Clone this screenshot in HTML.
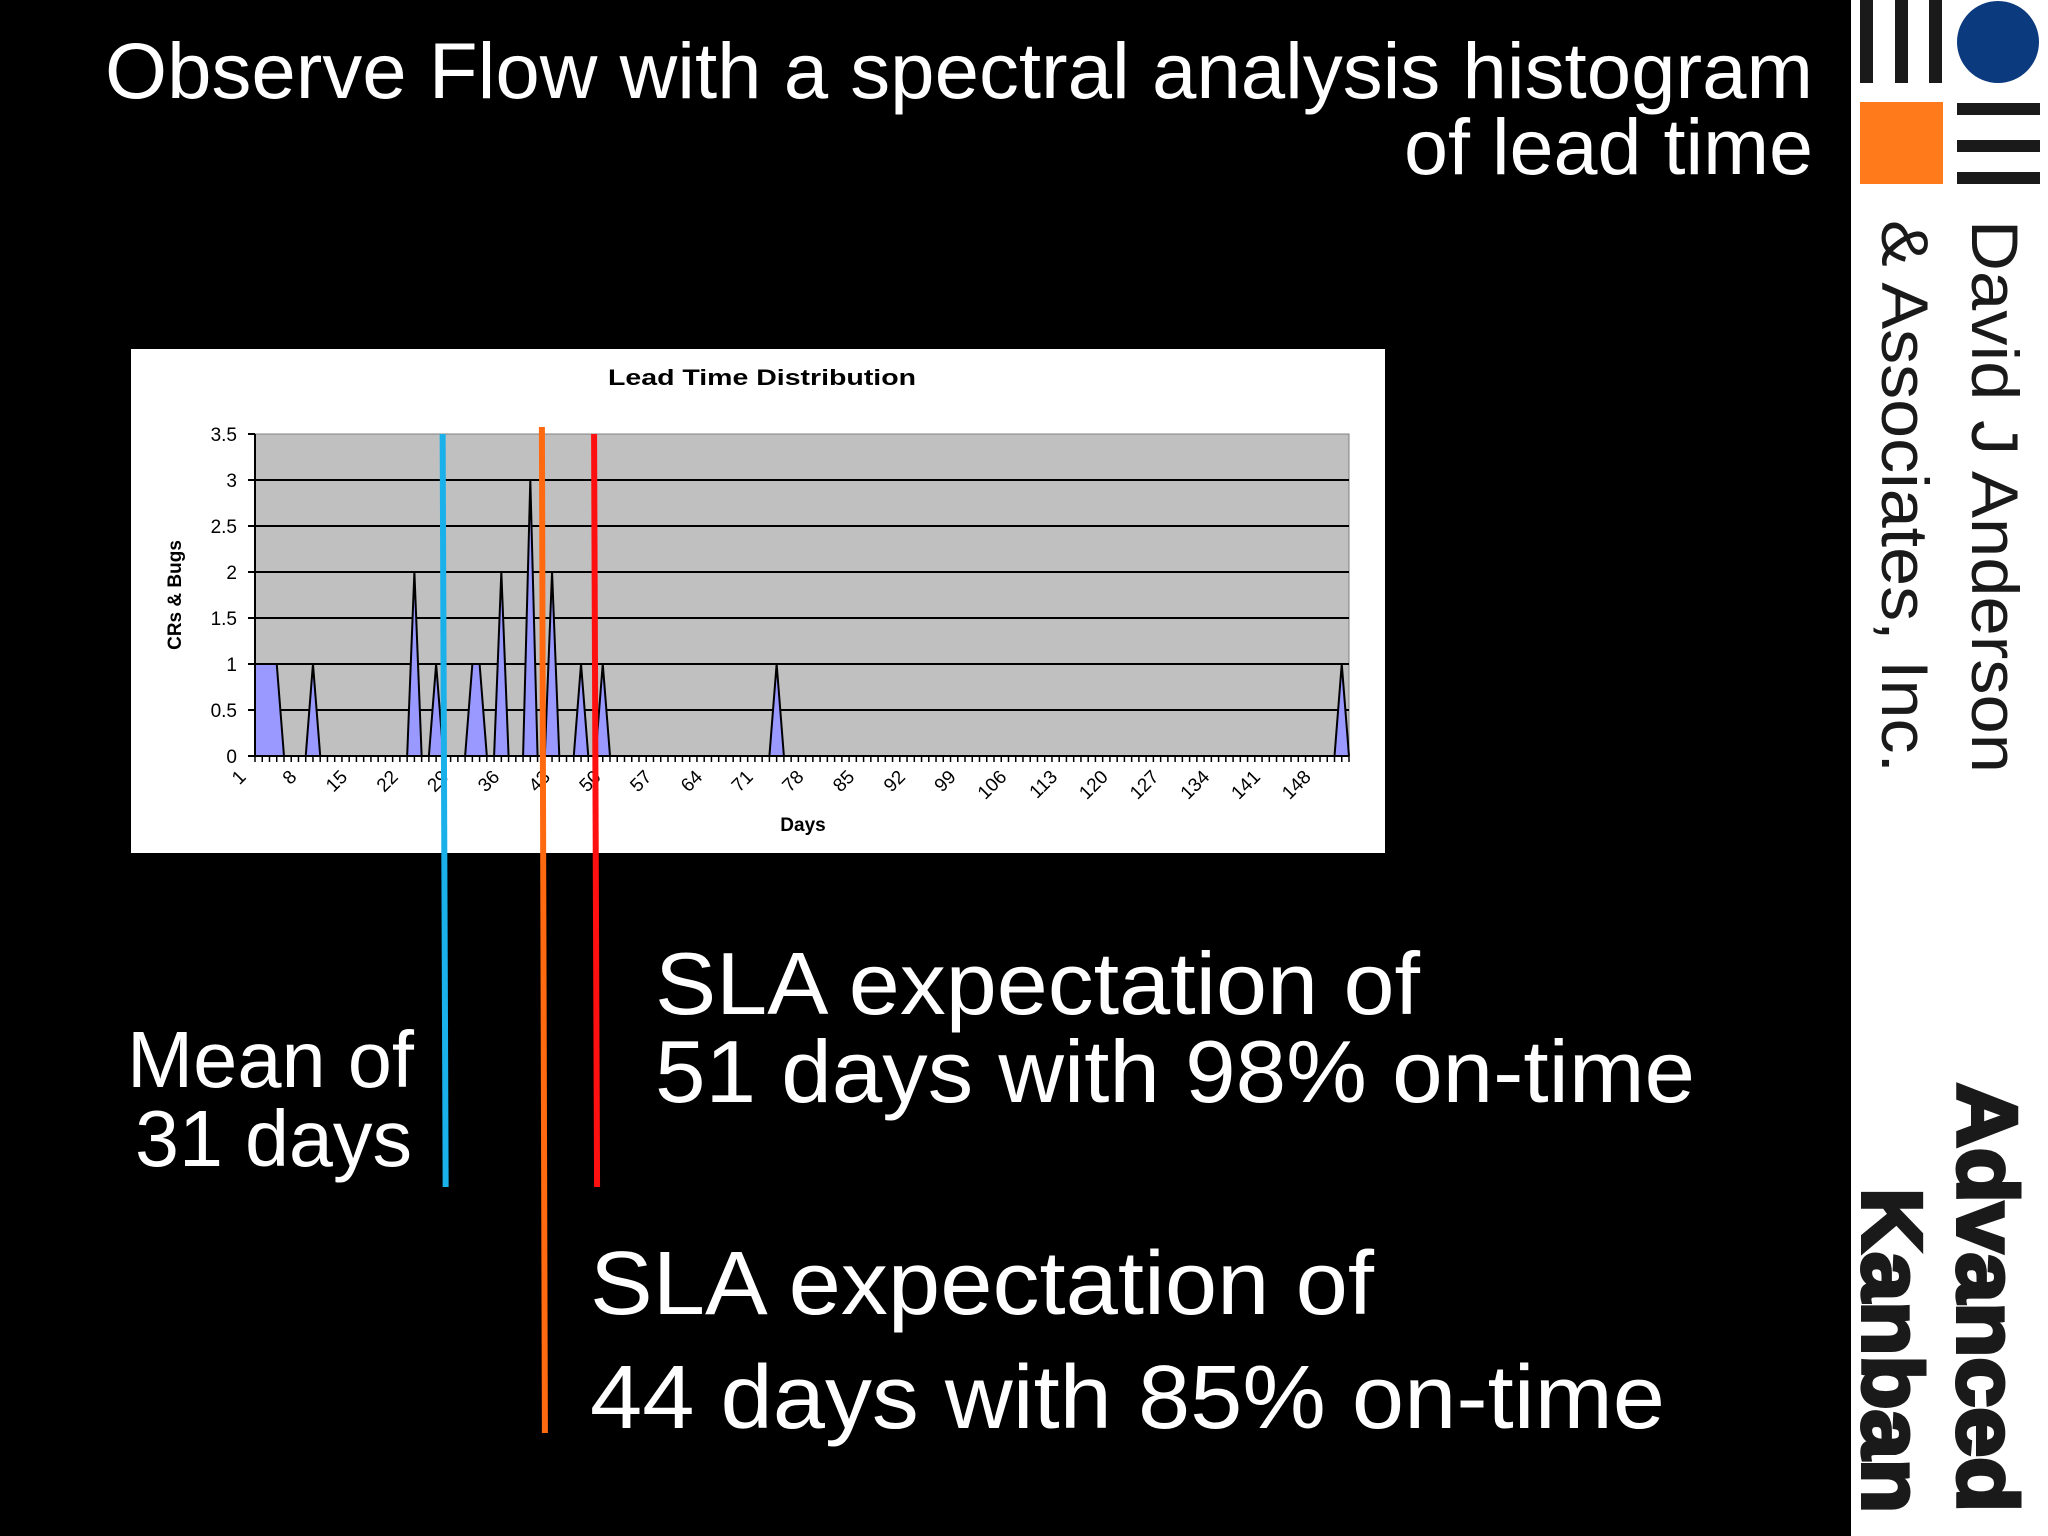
<!DOCTYPE html>
<html><head><meta charset="utf-8"><style>
html,body{margin:0;padding:0;background:#000;}
svg{display:block;}
text{font-family:"Liberation Sans",sans-serif;}
</style></head><body>
<svg id="page" width="2048" height="1536" viewBox="0 0 2048 1536" xmlns="http://www.w3.org/2000/svg">
<rect x="0" y="0" width="2048" height="1536" fill="#000"/>
<text x="105" y="98" font-size="79" fill="#fff" textLength="1708" lengthAdjust="spacingAndGlyphs">Observe Flow with a spectral analysis histogram</text>
<text x="1404" y="174" font-size="79" fill="#fff" textLength="409" lengthAdjust="spacingAndGlyphs">of lead time</text>

<g>
<rect x="1851" y="0" width="197" height="1536" fill="#fff"/>
<g>
<rect x="1860" y="0" width="13" height="83" fill="#1a1a1a"/>
<rect x="1895" y="0" width="13" height="83" fill="#1a1a1a"/>
<rect x="1929" y="0" width="13" height="83" fill="#1a1a1a"/>
<circle cx="1998" cy="42" r="41" fill="#0b3a7e"/>
<rect x="1860" y="102" width="83" height="82" fill="#ff7a1a"/>
<rect x="1957" y="103" width="83" height="12" fill="#1a1a1a"/>
<rect x="1957" y="140" width="83" height="12" fill="#1a1a1a"/>
<rect x="1957" y="172" width="83" height="12" fill="#1a1a1a"/>
</g>
<text transform="translate(1972,220) rotate(90)" font-size="66" fill="#1a1a1a" textLength="553" lengthAdjust="spacingAndGlyphs">David J Anderson</text>
<text transform="translate(1882,220) rotate(90)" font-size="66" fill="#1a1a1a" textLength="553" lengthAdjust="spacingAndGlyphs">&amp; Associates, Inc.</text>
<text transform="translate(1958,1083) rotate(90)" font-size="84" font-weight="bold" fill="#1a1a1a" textLength="429" lengthAdjust="spacingAndGlyphs" stroke="#1a1a1a" stroke-width="4">Advanced</text>
<text transform="translate(1863,1188) rotate(90)" font-size="84" font-weight="bold" fill="#1a1a1a" textLength="325" lengthAdjust="spacingAndGlyphs" stroke="#1a1a1a" stroke-width="4">Kanban</text>
</g>

<g id="chart">
<rect x="131" y="349" width="1254" height="504" fill="#fff"/>
<text x="608" y="385" font-size="22" font-weight="bold" fill="#000" textLength="308" lengthAdjust="spacingAndGlyphs">Lead Time Distribution</text>
<rect x="255" y="434" width="1094" height="322" fill="#c0c0c0" stroke="#808080" stroke-width="1"/>
<g id="grid"></g>
<g id="series"></g>
<g id="axes"></g>
<text transform="translate(181,595) rotate(-90)" font-size="19" font-weight="bold" fill="#000" text-anchor="middle">CRs &amp; Bugs</text>
<text x="803" y="831" font-size="19" font-weight="bold" fill="#000" text-anchor="middle">Days</text>
</g>
<g id="markers"></g>

<text x="127" y="1087" font-size="80" fill="#fff" textLength="287" lengthAdjust="spacingAndGlyphs">Mean of</text>
<text x="135" y="1166" font-size="80" fill="#fff" textLength="277" lengthAdjust="spacingAndGlyphs">31 days</text>
<text x="655" y="1014" font-size="88" fill="#fff" textLength="765" lengthAdjust="spacingAndGlyphs">SLA expectation of</text>
<text x="655" y="1102" font-size="88" fill="#fff" textLength="1040" lengthAdjust="spacingAndGlyphs">51 days with 98% on-time</text>
<text x="590" y="1314" font-size="90" fill="#fff" textLength="784" lengthAdjust="spacingAndGlyphs">SLA expectation of</text>
<text x="590" y="1428" font-size="90" fill="#fff" textLength="1075" lengthAdjust="spacingAndGlyphs">44 days with 85% on-time</text>
</svg>
<script>
const dayCount = 152;
const peakDays = [1, 2, 3, 4, 9, 23, 26, 31, 32, 35, 39, 42, 46, 49, 73, 151];
const peakValues = [1, 1, 1, 1, 1, 2, 1, 1, 1, 2, 3, 2, 1, 1, 1, 1];
const yTicks = [0, 0.5, 1, 1.5, 2, 2.5, 3, 3.5];
const yTickLabels = ["0", "0.5", "1", "1.5", "2", "2.5", "3", "3.5"];
const markerDays = [26.9, 40.6, 47.8];
const markerNames = ["mean-31-days-line", "sla-44-days-line", "sla-51-days-line"];
const markerColors = ["#1ab0ea", "#ff6a10", "#ff1010"];

const NS = "http://www.w3.org/2000/svg";
const PL = 255, PR = 1349, PT = 434, PB = 756, YMAX = 3.5;
function xs(day){ return PL + (day - 1) * (PR - PL) / (dayCount - 1); }
function ys(v){ return PB - v / YMAX * (PB - PT); }
function mk(tag, attrs, parent){ const e = document.createElementNS(NS, tag); for (const k in attrs) e.setAttribute(k, attrs[k]); parent.appendChild(e); return e; }

const values = new Array(dayCount).fill(0);
peakDays.forEach((d, i) => { values[d - 1] = peakValues[i]; });

const grid = document.getElementById('grid');
yTicks.forEach((t, i) => {
  if (t > 0 && t < YMAX) {
    const l = mk('line', {x1: PL, x2: PR, y1: ys(t), y2: ys(t), stroke: '#000', 'stroke-width': 2}, grid);
    
    
  }
});

const series = document.getElementById('series');
let d = 'M' + xs(1) + ',' + ys(0);
values.forEach((v, i) => { d += ' L' + xs(i + 1).toFixed(2) + ',' + ys(v).toFixed(2); });
d += ' L' + xs(dayCount) + ',' + ys(0) + ' Z';
const area = mk('path', {d: d, fill: '#9999ff', stroke: 'none'}, series);


let ld = '';
values.forEach((v, i) => { ld += (i ? ' L' : 'M') + xs(i + 1).toFixed(2) + ',' + ys(v).toFixed(2); });
const outline = mk('path', {d: ld, fill: 'none', stroke: '#000', 'stroke-width': 2}, series);



const axes = document.getElementById('axes');
const ya = mk('line', {x1: PL, x2: PL, y1: PT, y2: PB, stroke: '#000', 'stroke-width': 2}, axes);


const xa = mk('line', {x1: PL, x2: PR, y1: PB, y2: PB, stroke: '#000', 'stroke-width': 2}, axes);


yTicks.forEach((t, i) => {
  mk('line', {x1: PL - 7, x2: PL, y1: ys(t), y2: ys(t), stroke: '#000', 'stroke-width': 2}, axes);
  const tx = mk('text', {x: PL - 18, y: ys(t) + 7, 'font-size': 19, 'text-anchor': 'end', fill: '#000'}, axes);
  tx.textContent = yTickLabels[i];
  
  
});
for (let day = 1; day <= dayCount; day++) {
  mk('line', {x1: xs(day), x2: xs(day), y1: PB, y2: PB + 6, stroke: '#000', 'stroke-width': 1.5}, axes);
  if ((day - 1) % 7 === 0) {
    const x = xs(day) - 8, y = PB + 22;
    const tx = mk('text', {x: x, y: y, 'font-size': 19, 'text-anchor': 'end', fill: '#000', transform: 'rotate(-45 ' + x + ' ' + y + ')'}, axes);
    tx.textContent = String(day);
    
    
  }
}

const markers = document.getElementById('markers');
const markerTop = [434, 427, 434], markerBottom = [1187, 1433, 1187];
markerDays.forEach((md, i) => {
  const l = mk('line', {x1: xs(md), x2: xs(md) + 3, y1: markerTop[i], y2: markerBottom[i], stroke: markerColors[i], 'stroke-width': 6}, markers);
  
  
});
</script>
</body></html>
